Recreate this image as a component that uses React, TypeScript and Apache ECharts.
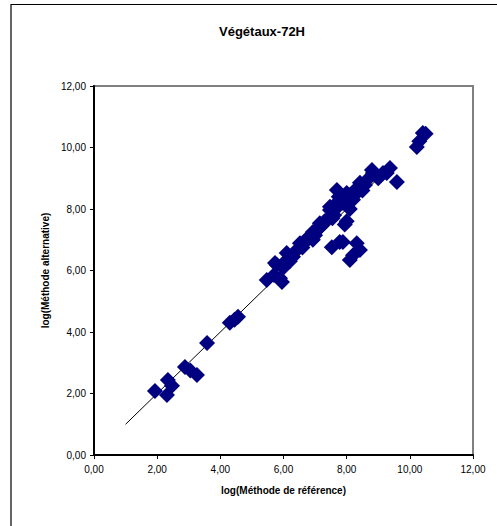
import React, { useEffect, useRef } from "react";
import * as echarts from "echarts";

const chartTitle = "Végétaux-72H";
const xAxisTitle = "log(Méthode de référence)";
const yAxisTitle = "log(Méthode alternative)";

// log(reference method)
const xValues: number[] = [
  1.93, 2.31, 2.34, 2.47, 2.88, 3.05, 3.26, 3.58, 4.3, 4.45, 4.56,
  5.47, 5.7, 5.89, 5.95, 5.79, 5.73, 6.1, 6.0, 6.1, 6.3, 6.42, 6.52, 6.7, 6.93, 6.93,
  7.1, 7.15, 7.3, 7.37, 7.47, 7.47, 7.6, 7.69, 7.69, 7.75, 7.88, 7.94, 8.0, 8.0, 8.1,
  8.2, 8.3, 8.42, 8.5, 8.58, 8.8, 8.83, 9.0, 9.15, 9.27, 9.37, 9.59,
  6.2, 6.6, 6.8, 7.0, 7.2, 7.55, 7.65, 7.8, 7.95, 8.1, 8.25, 8.7,
  7.53, 7.78, 7.88, 8.32, 8.1, 8.42, 8.2,
  10.22, 10.3, 10.41, 10.5,
];
// log(alternative method)
const yValues: number[] = [
  2.08, 1.95, 2.44, 2.25, 2.86, 2.75, 2.6, 3.64, 4.3, 4.4, 4.5,
  5.69, 5.85, 5.75, 5.63, 6.18, 6.24, 6.34, 6.1, 6.57, 6.45, 6.67, 6.89, 6.95, 7.0, 7.25,
  7.35, 7.54, 7.6, 7.64, 7.97, 8.07, 7.8, 8.2, 8.62, 8.4, 8.2, 7.5, 7.6, 8.52, 8.0,
  8.3, 8.5, 8.85, 8.6, 8.78, 9.27, 9.17, 9.0, 9.17, 9.17, 9.33, 8.88,
  6.3, 6.75, 7.1, 7.15, 7.45, 7.7, 8.0, 8.3, 8.35, 8.45, 8.6, 9.0,
  6.76, 6.93, 6.93, 6.89, 6.34, 6.67, 6.5,
  10.02, 10.2, 10.47, 10.45,
];
// identity line y = x
const lineX: number[] = [1, 9];

const axisTicks = { min: 0, max: 12, interval: 2 };

export default function App() {
  const ref = useRef<HTMLDivElement>(null);
  useEffect(() => {
    if (!ref.current) return;
    const chart = echarts.init(ref.current, undefined, { renderer: "svg" });
    const points = xValues.map((x, i) => [x, yValues[i]]);
    const linePts = lineX.map((v) => [v, v]);
    const font = "'Liberation Sans', Arial, sans-serif";
    const axisCommon = {
      type: "value" as const,
      min: axisTicks.min,
      max: axisTicks.max,
      interval: axisTicks.interval,
      splitLine: { show: false },
      axisLine: { show: true, onZero: false, lineStyle: { color: "#000", width: 2 } },
      axisTick: { show: true, inside: false, length: 4, lineStyle: { color: "#000", width: 1 } },
      nameTextStyle: { fontFamily: font, fontWeight: "bold" as const, fontSize: 10, color: "#000" },
      nameLocation: "middle" as const,
    };
    chart.setOption({
      animation: false,
      backgroundColor: "#fff",
      title: {
        text: chartTitle,
        left: 257,
        top: 20,
        textAlign: "center",
        textStyle: { fontFamily: font, fontWeight: "bold", fontSize: 13, color: "#000" },
      },
      graphic: [
        {
          type: "rect",
          shape: { x: 11, y: 4.5, width: 520, height: 560 },
          style: { fill: "none", stroke: "#000", lineWidth: 1.2 },
          silent: true,
        },
      ],
      grid: {
        left: 94,
        top: 86,
        right: 24,
        bottom: 71,
        show: true,
        borderColor: "#808080",
        borderWidth: 2,
        containLabel: false,
        outerBoundsMode: "none",
      },
      xAxis: {
        ...axisCommon,
        name: xAxisTitle,
        nameGap: 30,
        axisLabel: {
          fontFamily: font,
          fontSize: 10,
          color: "#000",
          margin: 9,
          formatter: (v: number) => v.toFixed(2).replace(".", ","),
        },
      },
      yAxis: {
        ...axisCommon,
        name: yAxisTitle,
        nameGap: 40,
        axisLabel: {
          fontFamily: font,
          fontSize: 10,
          color: "#000",
          margin: 8,
          formatter: (v: number) => v.toFixed(2).replace(".", ","),
        },
      },
      series: [
        {
          type: "line",
          data: linePts,
          symbol: "none",
          lineStyle: { color: "#000", width: 1 },
          z: 1,
        },
        {
          type: "scatter",
          data: points,
          symbol: "diamond",
          symbolSize: 16,
          itemStyle: { color: "#000080", opacity: 1 },
          z: 2,
        },
      ],
    });
    return () => chart.dispose();
  }, []);
  return (
    <div
      ref={ref}
      style={{ position: "fixed", left: 0, top: 0, width: 497, height: 526 }}
    />
  );
}
